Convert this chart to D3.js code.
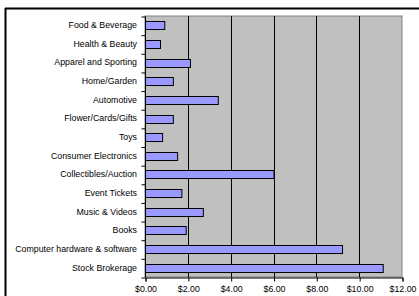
<!DOCTYPE html>
<html>
<head>
<meta charset="utf-8">
<script src="https://cdn.jsdelivr.net/npm/d3@7"></script>
<style>
  body { margin: 0; background: #fff; }
  text { font-family: Arial, "Liberation Sans", sans-serif; }
</style>
</head>
<body>
<div id="chart"></div>
<script>
// categories top to bottom, revenue per visitor in dollars
const categories = [
  'Food & Beverage', 'Health & Beauty', 'Apparel and Sporting', 'Home/Garden',
  'Automotive', 'Flower/Cards/Gifts', 'Toys', 'Consumer Electronics',
  'Collectibles/Auction', 'Event Tickets', 'Music & Videos', 'Books',
  'Computer hardware & software', 'Stock Brokerage'
]
const values = [0.9, 0.7, 2.1, 1.3, 3.4, 1.3, 0.8, 1.5, 6.0, 1.7, 2.7, 1.9, 9.2, 11.1]
const xTicks = [0, 2, 4, 6, 8, 10, 12]

const outerWidth = 419
const outerHeight = 296
const margin = {top: 16, right: 17, bottom: 19, left: 145}
const width = outerWidth - margin.left - margin.right
const height = outerHeight - margin.top - margin.bottom

const root = d3.select('#chart').append('svg')
  .attr('width', outerWidth)
  .attr('height', outerHeight)

// outer frame (top + left edges only visible)
root.append('line')
  .attr('x1', 5).attr('x2', outerWidth).attr('y1', 8.5).attr('y2', 8.5)
  .attr('stroke', '#000').attr('stroke-width', 2)
root.append('line')
  .attr('x1', 5.5).attr('x2', 5.5).attr('y1', 8).attr('y2', outerHeight)
  .attr('stroke', '#000').attr('stroke-width', 2)

const svg = root.append('g')
  .attr('transform', `translate(${margin.left},${margin.top})`)

const xs = d3.scaleLinear().domain([0, 12]).range([0, width])
const ys = d3.scaleBand().domain(categories).range([0, height])
  .paddingInner(0.57).paddingOuter(0.285)
const yb = d3.scaleLinear().domain([0, categories.length]).range([0, height])

// plot area
svg.append('rect')
  .attr('x', 0).attr('y', 0)
  .attr('width', width).attr('height', height)
  .attr('fill', '#c0c0c0')
  .attr('stroke', '#808080')

// gridlines
svg.append('g')
  .selectAll('line')
  .data(xTicks.filter(d => d > 0 && d < 12))
  .join('line')
  .attr('x1', d => Math.round(xs(d)) + 0.5)
  .attr('x2', d => Math.round(xs(d)) + 0.5)
  .attr('y1', 0).attr('y2', height)
  .attr('stroke', '#000')

// bars
svg.append('g')
  .selectAll('rect')
  .data(values)
  .join('rect')
  .attr('x', xs(0) + 0.5)
  .attr('y', (d, i) => Math.round(ys(categories[i])) + 0.5)
  .attr('width', d => xs(d))
  .attr('height', ys.bandwidth())
  .attr('fill', '#9999ff')
  .attr('stroke', '#000')
  .attr('stroke-width', 1)

// x axis
svg.append('g')
  .attr('transform', `translate(0.5,${height + 0.5})`)
  .call(d3.axisBottom(xs).tickValues(xTicks).tickSize(4).tickPadding(4)
    .tickFormat(d => '$' + d3.format('.2f')(d)))
  .call(g => g.select('.domain').attr('stroke', '#000'))
  .call(g => g.selectAll('text').style('font-size', '8.8px').attr('fill', '#000'))

// y axis: boundary ticks
svg.append('g')
  .attr('transform', 'translate(0.5,0.5)')
  .call(d3.axisLeft(yb).tickValues(d3.range(categories.length + 1))
    .tickSize(4).tickFormat(''))
  .call(g => g.select('.domain').attr('d', `M0,0V${height}`).attr('stroke', '#000'))

// y axis: labels
svg.append('g')
  .call(d3.axisLeft(ys).tickSize(0).tickPadding(8))
  .call(g => g.select('.domain').remove())
  .call(g => g.selectAll('text').style('font-size', '8.8px').attr('fill', '#000'))
</script>
</body>
</html>
